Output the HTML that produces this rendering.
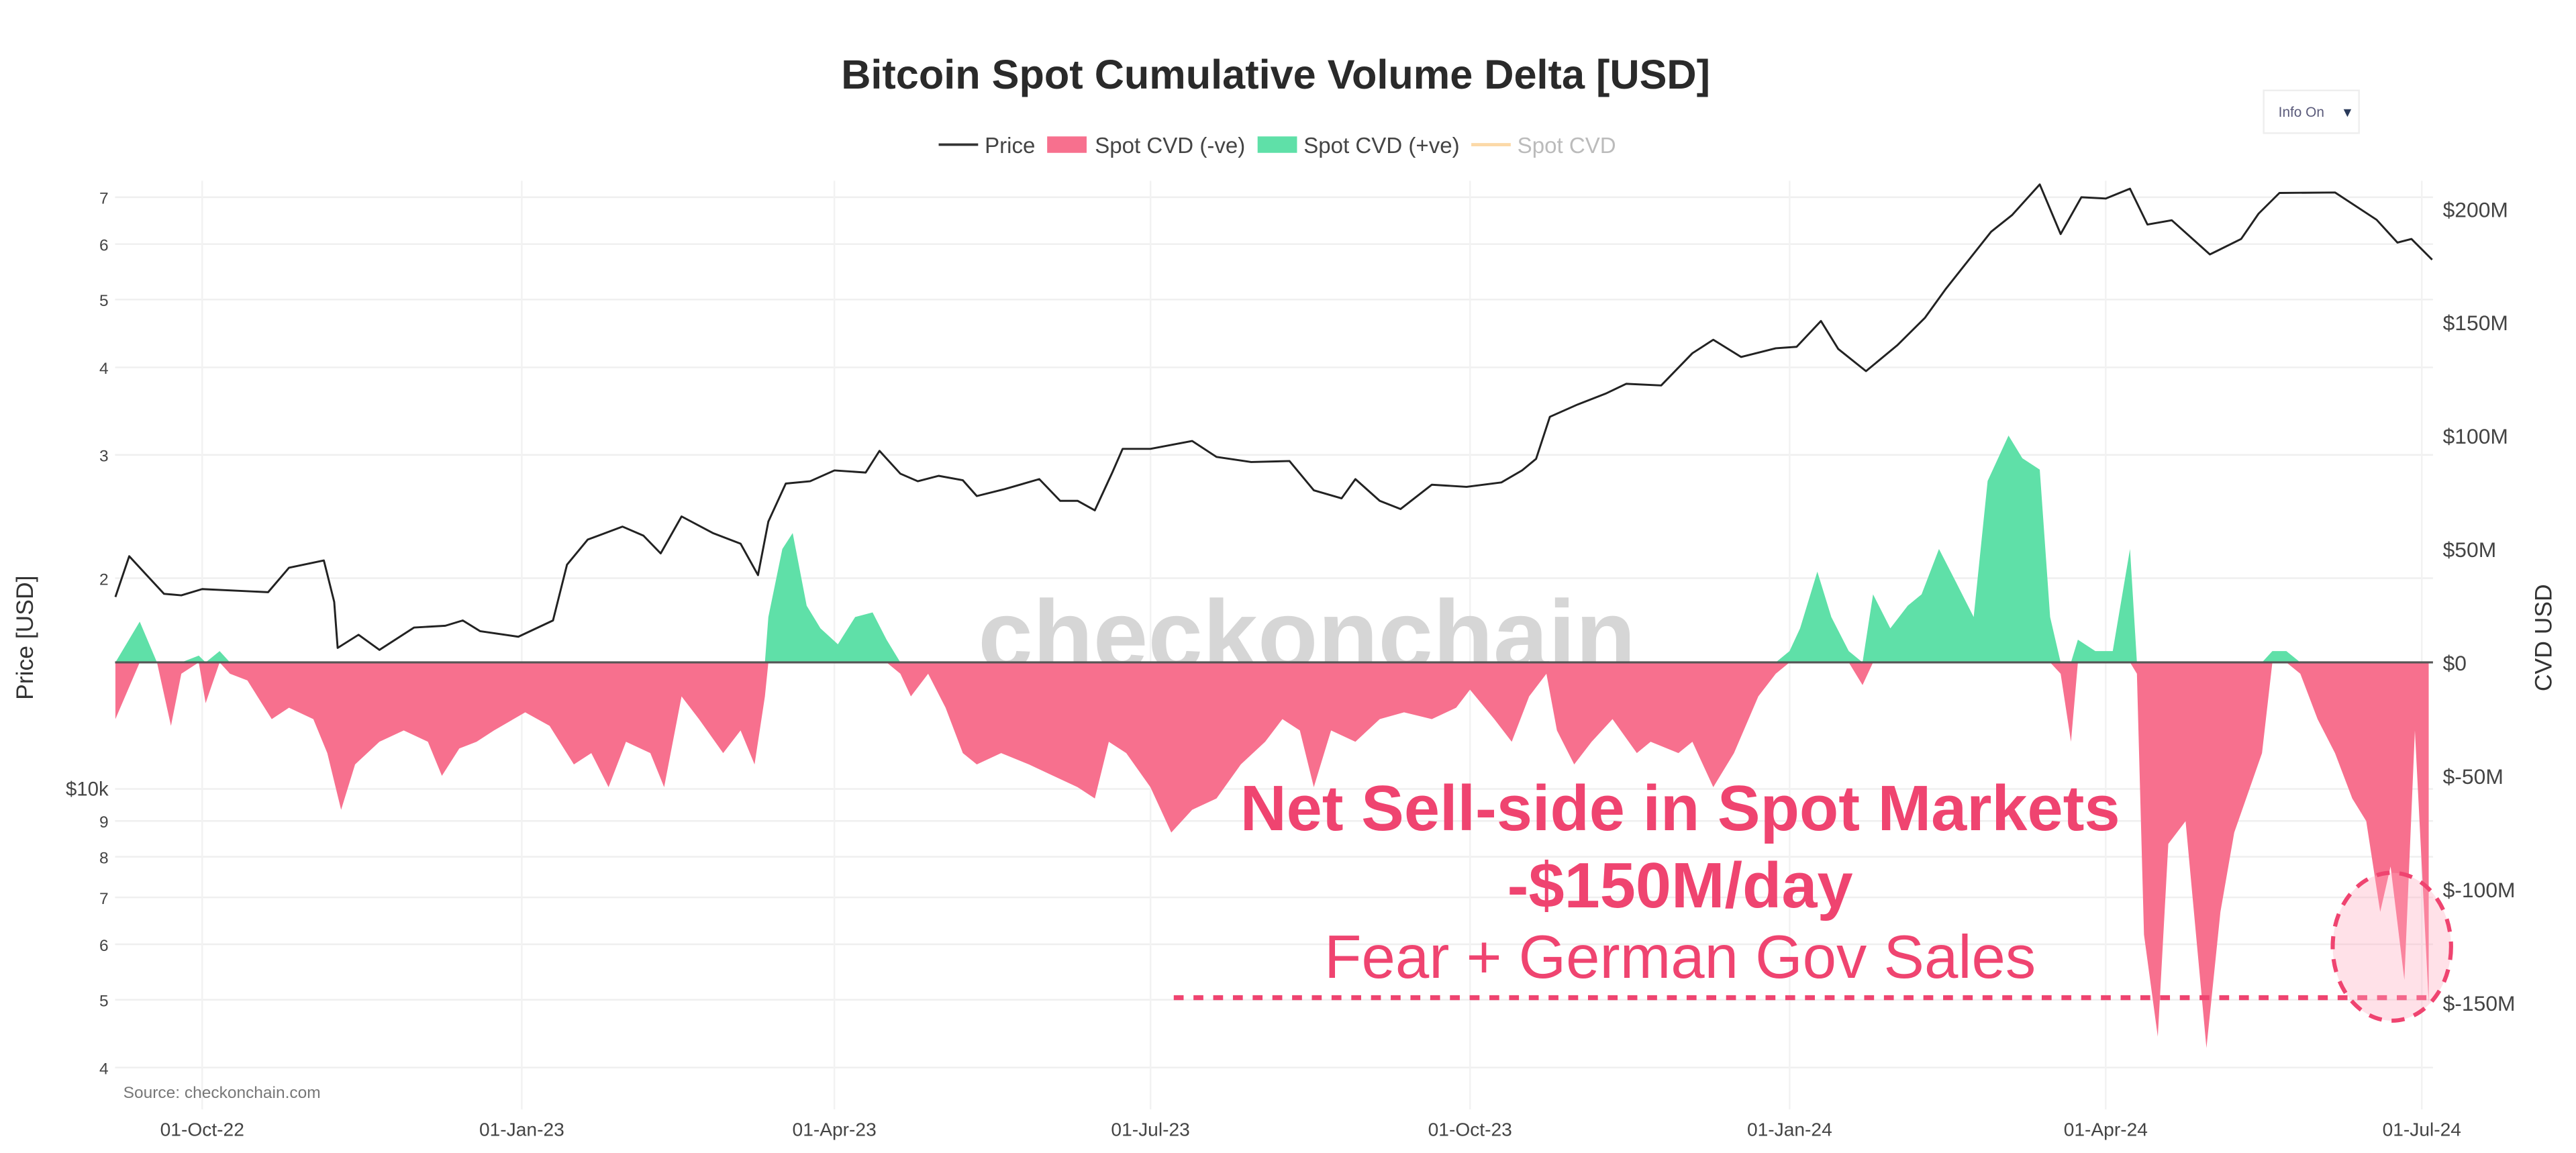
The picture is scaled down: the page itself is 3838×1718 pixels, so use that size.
<!DOCTYPE html>
<html><head><meta charset="utf-8"><style>
html,body{margin:0;padding:0;background:#fff;}
svg{display:block;font-family:"Liberation Sans",sans-serif;}
</style></head><body>
<svg id="chart" width="3838" height="1718" viewBox="0 0 1567 701.5" preserveAspectRatio="none" xmlns="http://www.w3.org/2000/svg">
<rect x="0" y="0" width="1567" height="701.5" fill="#fff"/>
<g id="grid"></g>
<text x="795" y="407" text-anchor="middle" font-size="60" font-weight="bold" fill="#d6d6d6">checkonchain</text>
<g id="areas"></g>
<line x1="70" y1="403" x2="1480" y2="403" stroke="#555" stroke-width="1.3"/>
<g id="priceg"></g>
<g id="axes"></g>
<text x="776" y="54" text-anchor="middle" font-size="25" font-weight="bold" fill="#2a2a2a">Bitcoin Spot Cumulative Volume Delta [USD]</text>
<g font-size="13.5" fill="#444">
<g><line x1="571" y1="88" x2="595" y2="88" stroke="#333" stroke-width="1.5"/><text x="599" y="93">Price</text></g>
<g><rect x="637" y="83" width="24" height="10" fill="#f7708e"/><text x="666" y="93">Spot CVD (-ve)</text></g>
<g><rect x="765" y="83" width="24" height="10" fill="#5fe0a8"/><text x="793" y="93">Spot CVD (+ve)</text></g>
<g><line x1="895" y1="88" x2="919" y2="88" stroke="#fcd9a8" stroke-width="2"/><text x="923" y="93" fill="#bbb">Spot CVD</text></g>
</g>
<g><rect x="1377" y="55" width="58" height="26" fill="#fff" stroke="#eee"/><text x="1386" y="71" font-size="8.5" fill="#5a5a7a">Info On</text><text x="1424" y="71" font-size="8" fill="#2a3a5a">▼</text></g>
<text transform="translate(20,388) rotate(-90)" text-anchor="middle" font-size="14.5" fill="#333">Price [USD]</text>
<text transform="translate(1552,388) rotate(-90)" text-anchor="middle" font-size="14.5" fill="#333">CVD USD</text>
<text x="75" y="668" font-size="10" fill="#777">Source: checkonchain.com</text>
<g fill="#ef4470" text-anchor="middle">
<text x="1022" y="505" font-size="39" font-weight="bold">Net Sell-side in Spot Markets</text>
<text x="1022" y="552" font-size="39" font-weight="bold">-$150M/day</text>
<text x="1022" y="595" font-size="37">Fear + German Gov Sales</text>
</g>
<line x1="714" y1="607" x2="1480" y2="607" stroke="#ef4470" stroke-width="3" stroke-dasharray="6,6"/>
<ellipse cx="1455" cy="576" rx="36" ry="45" fill="rgba(255,170,190,0.35)" stroke="#ef4470" stroke-width="2.5" stroke-dasharray="8,6"/>
</svg>
<script>
// Data (days since 2022-09-01)
const priceDays=[5,9,14,19,24,30,39,49,55,65,68,69,75,81,91,100,105,110,121,131,135,141,151,157,162,168,177,185,190,193,198,205,212,221,225,231,236,242,249,253,261,271,277,282,287,292,295,303,315,322,332,343,350,358,362,369,375,384,394,404,410,414,418,426,434,440,450,459,465,473,483,489,496,501,509,518,526,532,545,551,559,565,571,578,585,590,597,608,617,622,628,644,656,662,666,672];
const priceK=[18.8,21.5,20.2,19.0,18.9,19.3,19.2,19.1,20.7,21.2,18.5,15.9,16.6,15.8,17.0,17.1,17.4,16.8,16.5,17.4,20.9,22.7,23.7,23.0,21.7,24.5,23.2,22.4,20.2,24.1,27.3,27.5,28.5,28.3,30.4,28.2,27.5,28.0,27.6,26.2,26.8,27.7,25.8,25.8,25.0,28.3,30.6,30.6,31.4,29.8,29.3,29.4,26.7,26.0,27.7,25.8,25.1,27.2,27.0,27.4,28.5,29.6,34.0,35.4,36.7,37.9,37.7,41.9,43.8,41.4,42.6,42.8,46.6,42.5,39.5,43.0,47.1,51.8,62.5,66.0,73.0,62.0,70.0,69.7,72.0,64.0,64.9,58.0,61.0,66.3,71.0,71.1,65.0,60.3,61.0,57.0];
const cvdDays=[5,12,17,21,24,29,31,35,38,43,50,55,62,66,70,74,81,88,95,99,104,109,114,123,130,137,142,147,152,159,163,168,173,180,185,189,192,193,197,200,204,208,213,218,223,227,231,234,239,244,249,253,260,268,275,282,287,291,296,303,309,315,322,329,336,341,346,350,355,362,369,376,384,391,395,402,407,412,417,420,425,430,436,443,447,455,459,465,471,478,483,487,490,495,499,504,508,511,516,521,525,530,535,540,544,550,554,559,562,565,568,570,575,580,585,587,589,593,596,601,607,611,615,623,626,630,634,639,644,649,653,657,660,664,667,671];
const cvdM=[-25,18,0,-28,-5,3,-18,5,-5,-8,-25,-20,-25,-40,-65,-45,-35,-30,-35,-50,-38,-35,-30,-22,-28,-45,-40,-55,-35,-40,-55,-15,-25,-40,-30,-45,-15,20,50,57,25,15,8,20,22,10,-5,-15,-5,-20,-40,-45,-40,-45,-50,-55,-60,-35,-40,-55,-75,-65,-60,-45,-35,-25,-30,-55,-30,-35,-25,-22,-25,-20,-12,-25,-35,-15,-5,-30,-45,-35,-25,-40,-35,-40,-35,-55,-40,-15,-5,5,15,40,20,5,-10,30,15,25,30,50,35,20,80,100,90,85,20,-5,-35,10,5,5,50,-5,-120,-165,-80,-70,-170,-110,-75,-40,5,5,-5,-25,-40,-60,-70,-110,-90,-140,-30,-150];
const xTickDays=[30,122,212,303,395,487,578,669];
const xTickLabels=["01-Oct-22","01-Jan-23","01-Apr-23","01-Jul-23","01-Oct-23","01-Jan-24","01-Apr-24","01-Jul-24"];
const priceTicks=[70,60,50,40,30,20,10,9,8,7,6,5,4];
const priceTickLabels=["7","6","5","4","3","2","$10k","9","8","7","6","5","4"];
const cvdTicks=[200,150,100,50,0,-50,-100,-150];
const cvdTickLabels=["$200M","$150M","$100M","$50M","$0","$-50M","$-100M","$-150M"];

const NS="http://www.w3.org/2000/svg";
const X=d=>123+(d-30)*2.113;
const YP=p=>480-Math.log10(p/10)*426;
const YC=v=>403-v*69/50;
function mk(tag,attrs,parent){const e=document.createElementNS(NS,tag);for(const k in attrs)e.setAttribute(k,attrs[k]);parent.appendChild(e);return e;}
const grid=document.getElementById('grid'),axes=document.getElementById('axes');
priceTicks.forEach((p,i)=>{
  const g=mk('line',{x1:70,x2:1480,y1:YP(p),y2:YP(p),stroke:'#efefef','stroke-width':1},grid);
  
  
  const t=mk('text',{x:66,y:YP(p)+4,'text-anchor':'end','font-size':i==6?12:10,fill:'#444'},axes);
  t.textContent=priceTickLabels[i];
  
  
});
cvdTicks.forEach((v,i)=>{
  const t=mk('text',{x:1486,y:YC(v)+5,'font-size':13,fill:'#444'},axes);
  t.textContent=cvdTickLabels[i];
  
  
});
xTickDays.forEach((d,i)=>{
  const g=mk('line',{x1:X(d),x2:X(d),y1:110,y2:675,stroke:'#f2f2f2','stroke-width':1},grid);
  
  
  const t=mk('text',{x:X(d),y:691,'text-anchor':'middle','font-size':11.5,fill:'#444'},axes);
  t.textContent=xTickLabels[i];
  
  
});
const areas=document.getElementById('areas');
function area(fn,color,name){
  let pts=[[X(cvdDays[0]),YC(0)]];
  cvdDays.forEach((d,i)=>pts.push([X(d),YC(fn(cvdM[i]))]));
  pts.push([X(cvdDays[cvdDays.length-1]),YC(0)]);
  const p=mk('polygon',{points:pts.map(q=>q[0].toFixed(1)+','+q[1].toFixed(1)).join(' '),fill:color},areas);
  
  
}
area(v=>Math.min(v,0),'#f7708e','cvd-negative-area');
area(v=>Math.max(v,0),'#5fe0a8','cvd-positive-area');
const pl=mk('polyline',{points:priceDays.map((d,i)=>X(d).toFixed(1)+','+YP(priceK[i]).toFixed(1)).join(' '),fill:'none',stroke:'#222','stroke-width':1.2,'stroke-linejoin':'round'},document.getElementById('priceg'));


</script>
</body></html>
